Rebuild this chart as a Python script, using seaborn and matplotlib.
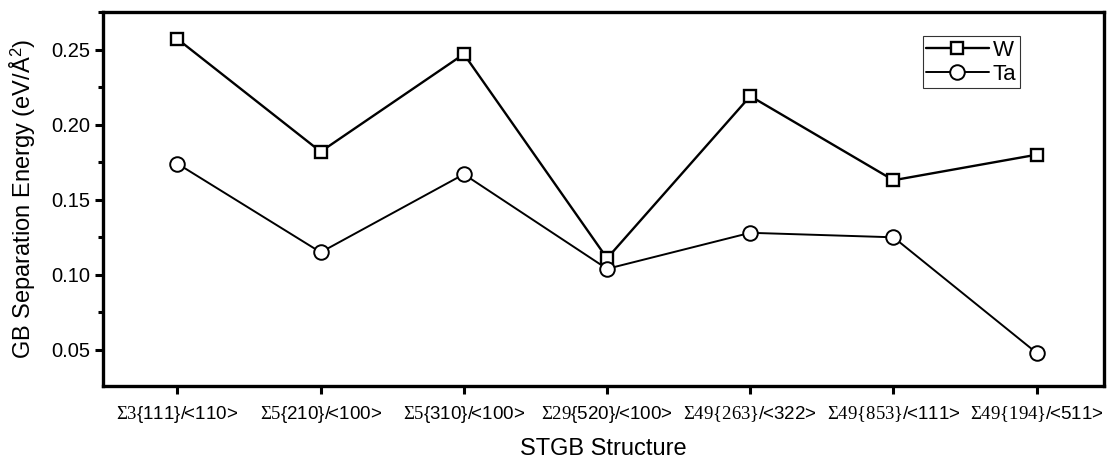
import matplotlib
matplotlib.use("Agg")
import matplotlib.pyplot as plt
from matplotlib.ticker import MultipleLocator, FormatStrFormatter
import seaborn as sns
import pandas as pd

structures = [
    r"$\Sigma3$" + "{111}/<110>",
    r"$\Sigma5$" + "{210}/<100>",
    r"$\Sigma5$" + "{310}/<100>",
    r"$\Sigma29$" + "{520}/<100>",
    r"$\Sigma49\{263\}$" + "/<322>",
    r"$\Sigma49\{853\}$" + "/<111>",
    r"$\Sigma49\{194\}$" + "/<511>",
]
energy_w = [0.257, 0.182, 0.247, 0.111, 0.219, 0.163, 0.180]
energy_ta = [0.174, 0.115, 0.167, 0.104, 0.128, 0.125, 0.048]

sns.set_theme(style="ticks")
plt.rcParams["font.family"] = ["Liberation Sans", "DejaVu Sans"]
plt.rcParams["mathtext.fontset"] = "custom"
plt.rcParams["mathtext.rm"] = "Liberation Serif"
plt.rcParams["mathtext.it"] = "Liberation Serif"
plt.rcParams["mathtext.bf"] = "Liberation Serif"
plt.rcParams["text.color"] = "black"
plt.rcParams["xtick.color"] = "black"
plt.rcParams["ytick.color"] = "black"
plt.rcParams["axes.labelcolor"] = "black"

pos = list(range(len(structures)))
df_w = pd.DataFrame({"x": pos, "y": energy_w})
df_ta = pd.DataFrame({"x": pos, "y": energy_ta})

fig = plt.figure(figsize=(11.12, 4.61), dpi=100)
ax = fig.add_axes([103 / 1112, 75 / 461, 1001 / 1112, 374 / 461])

sns.lineplot(data=df_w, x="x", y="y", ax=ax, color="black", lw=1.7,
             marker="s", markersize=9, markerfacecolor="white",
             markeredgecolor="black", markeredgewidth=1.7, label="W")
sns.lineplot(data=df_ta, x="x", y="y", ax=ax, color="black", lw=1.4,
             marker="o", markersize=10.5, markerfacecolor="white",
             markeredgecolor="black", markeredgewidth=1.4, label="Ta")

ax.set_xlim(-0.52, 6.47)
ax.set_ylim(0.026, 0.275)
ax.set_xticks(pos)
ax.set_xticklabels(structures, fontsize=13.5)
ax.yaxis.set_major_locator(MultipleLocator(0.05))
ax.yaxis.set_minor_locator(MultipleLocator(0.025))
ax.yaxis.set_major_formatter(FormatStrFormatter("%.2f"))
ax.tick_params(axis="y", which="major", labelsize=14.5, length=6, width=2.2, direction="out")
ax.tick_params(axis="y", which="minor", length=3.5, width=2.2, direction="out")
ax.tick_params(axis="x", which="major", length=6, width=2.2, direction="out", pad=7)

for s in ax.spines.values():
    s.set_visible(True)
    s.set_linewidth(2.4)
    s.set_color("black")

ax.set_xlabel("STGB Structure", fontsize=17, labelpad=9)
ax.set_ylabel("GB Separation Energy (eV/Å$^\\mathregular{2}$)", fontsize=17, labelpad=10)

leg = ax.legend(loc="upper right", bbox_to_anchor=(0.916, 0.935), fontsize=16,
                frameon=True, fancybox=False, edgecolor="black",
                handlelength=2.8, borderpad=0.15, labelspacing=0.15,
                handletextpad=0.2, borderaxespad=0)
leg.get_frame().set_linewidth(0.8)

fig.savefig("out.png", dpi=100)
